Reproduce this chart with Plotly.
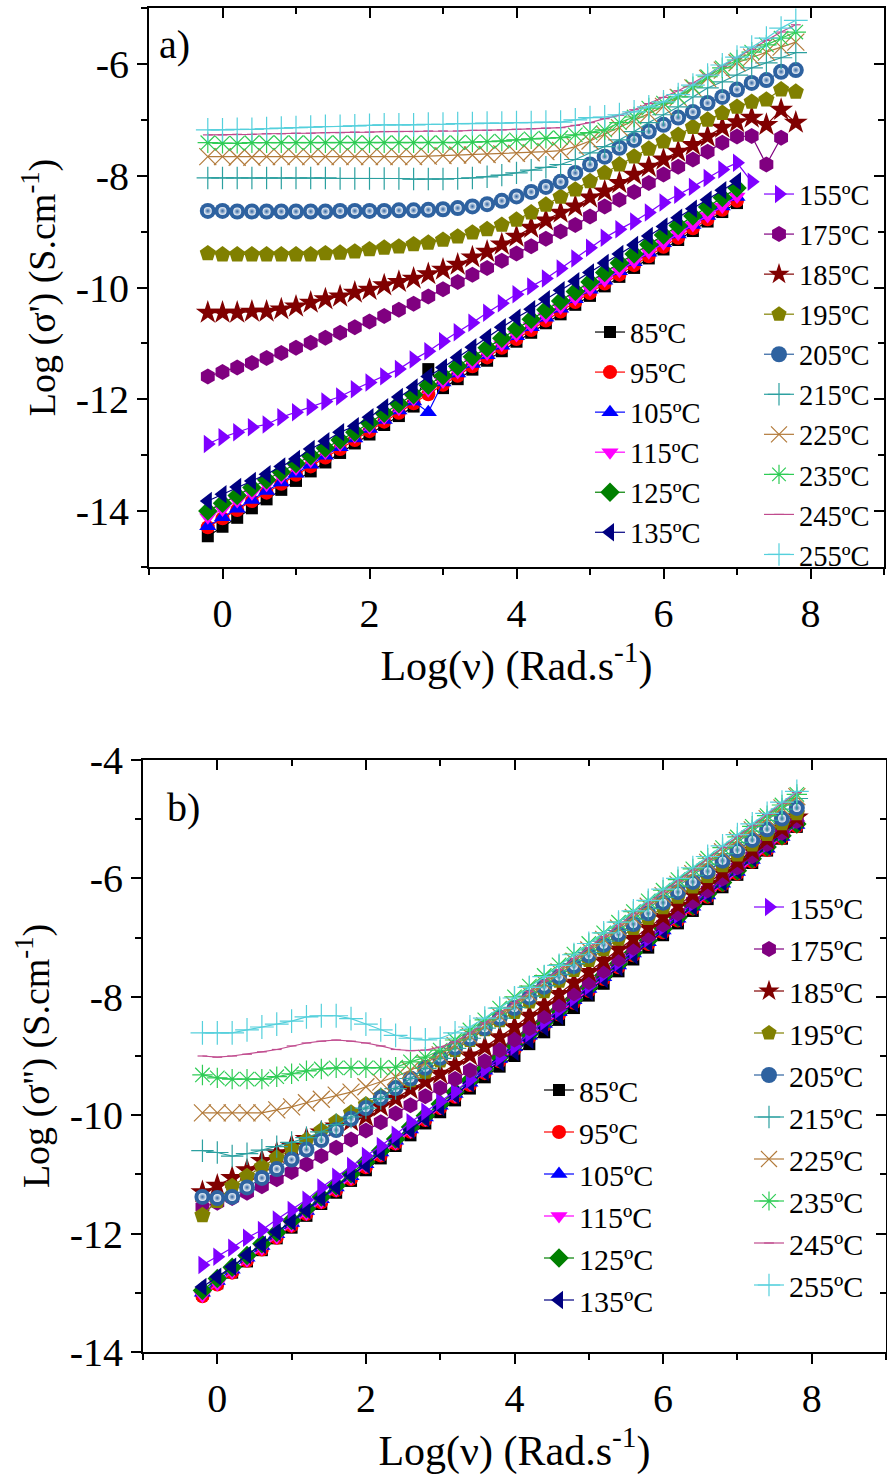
import plotly.graph_objects as go

# log10 of angular frequency (shared sampling of both panels)
FREQ = [-0.2, 0.0, 0.2, 0.4, 0.6, 0.8, 1.0, 1.2, 1.4, 1.6, 1.8, 2.0, 2.2, 2.4, 2.6,
        2.8, 3.0, 3.2, 3.4, 3.6, 3.8, 4.0, 4.2, 4.4, 4.6, 4.8, 5.0, 5.2, 5.4, 5.6,
        5.8, 6.0, 6.2, 6.4, 6.6, 6.8, 7.0, 7.2, 7.4, 7.6, 7.8]

TEMPS = ["85ºC", "95ºC", "105ºC", "115ºC", "125ºC", "135ºC", "155ºC", "175ºC",
         "185ºC", "195ºC", "205ºC", "215ºC", "225ºC", "235ºC", "245ºC", "255ºC"]

# ---- a) real part of conductivity, log(sigma') ----
A_85 = [-14.45, -14.28, -14.12, -13.95, -13.79, -13.62, -13.46, -13.29, -13.13, -12.96,
        -12.79, -12.63, -12.46, -12.30, -12.13, -11.46, -11.80, -11.64, -11.47, -11.31,
        -11.14, -10.97, -10.81, -10.64, -10.48, -10.31, -10.15, -9.98, -9.81, -9.65,
        -9.48, -9.32, -9.15, -8.99, -8.82, -8.65, -8.49]
A_95 = [-14.29, -14.13, -13.98, -13.82, -13.67, -13.51, -13.35, -13.20, -13.04, -12.89,
        -12.73, -12.57, -12.40, -12.24, -12.07, -11.91, -11.74, -11.58, -11.41, -11.25,
        -11.08, -10.92, -10.76, -10.59, -10.43, -10.26, -10.10, -9.93, -9.77, -9.60,
        -9.44, -9.27, -9.11, -8.94, -8.78, -8.61, -8.45]
A_105 = [-14.27, -14.11, -13.96, -13.80, -13.64, -13.49, -13.33, -13.17, -13.01, -12.86,
         -12.70, -12.53, -12.37, -12.20, -12.04, -12.23, -11.70, -11.54, -11.37, -11.21,
         -11.04, -10.87, -10.71, -10.54, -10.38, -10.21, -10.04, -9.88, -9.71, -9.55,
         -9.38, -9.21, -9.05, -8.88, -8.72, -8.55, -8.38]
A_115 = [-14.11, -13.97, -13.82, -13.68, -13.53, -13.39, -13.24, -13.10, -12.95, -12.81,
         -12.66, -12.50, -12.33, -12.17, -12.00, -11.84, -11.68, -11.51, -11.35, -11.18,
         -11.02, -10.85, -10.69, -10.52, -10.36, -10.20, -10.03, -9.87, -9.70, -9.54,
         -9.37, -9.21, -9.04, -8.88, -8.72, -8.55, -8.37]
A_125 = [-14.00, -13.86, -13.72, -13.58, -13.44, -13.30, -13.15, -13.01, -12.87, -12.73,
         -12.59, -12.42, -12.25, -12.08, -11.92, -11.75, -11.58, -11.41, -11.24, -11.08,
         -10.91, -10.74, -10.57, -10.40, -10.24, -10.07, -9.90, -9.73, -9.56, -9.40,
         -9.23, -9.06, -8.89, -8.72, -8.56, -8.39, -8.22]
A_135 = [-13.82, -13.70, -13.57, -13.46, -13.34, -13.20, -13.07, -12.89, -12.75, -12.59,
         -12.48, -12.32, -12.14, -11.96, -11.79, -11.59, -11.43, -11.25, -11.07, -10.89,
         -10.71, -10.54, -10.39, -10.21, -10.05, -9.89, -9.73, -9.56, -9.40, -9.24,
         -9.08, -8.91, -8.75, -8.59, -8.43, -8.26, -8.10]
A_155 = [-12.80, -12.68, -12.59, -12.50, -12.45, -12.32, -12.23, -12.14, -12.04, -11.95,
         -11.82, -11.70, -11.59, -11.46, -11.29, -11.14, -10.96, -10.80, -10.63, -10.45,
         -10.28, -10.12, -9.98, -9.84, -9.66, -9.48, -9.29, -9.11, -8.96, -8.82,
         -8.66, -8.48, -8.34, -8.20, -8.04, -7.89, -7.77, -8.11]
A_175 = [-11.59, -11.51, -11.43, -11.35, -11.26, -11.17, -11.08, -10.99, -10.90, -10.81,
         -10.71, -10.61, -10.51, -10.40, -10.29, -10.16, -10.03, -9.90, -9.77, -9.65,
         -9.52, -9.39, -9.26, -9.13, -9.00, -8.88, -8.73, -8.55, -8.43, -8.29,
         -8.13, -7.98, -7.84, -7.71, -7.57, -7.41, -7.30, -7.29, -7.80, -7.32]
A_185 = [-10.45, -10.45, -10.45, -10.43, -10.43, -10.39, -10.34, -10.27, -10.21, -10.16,
         -10.09, -10.04, -9.96, -9.90, -9.84, -9.76, -9.68, -9.59, -9.46, -9.36,
         -9.23, -9.09, -8.93, -8.80, -8.66, -8.55, -8.39, -8.28, -8.13, -7.98,
         -7.84, -7.71, -7.57, -7.45, -7.30, -7.14, -7.04, -6.96, -7.09, -6.82, -7.05]
A_195 = [-9.39, -9.41, -9.41, -9.41, -9.41, -9.41, -9.41, -9.41, -9.39, -9.38,
         -9.36, -9.32, -9.29, -9.27, -9.23, -9.20, -9.15, -9.09, -9.02, -8.96,
         -8.88, -8.79, -8.66, -8.52, -8.38, -8.25, -8.10, -7.95, -7.80, -7.66,
         -7.52, -7.39, -7.27, -7.13, -7.00, -6.88, -6.77, -6.68, -6.64, -6.46, -6.50]
A_205 = [-8.63, -8.63, -8.64, -8.64, -8.64, -8.64, -8.64, -8.64, -8.64, -8.63,
         -8.63, -8.63, -8.63, -8.62, -8.62, -8.61, -8.60, -8.58, -8.55, -8.51,
         -8.45, -8.37, -8.29, -8.20, -8.11, -7.95, -7.80, -7.66, -7.50, -7.36,
         -7.21, -7.09, -6.96, -6.86, -6.70, -6.59, -6.46, -6.34, -6.29, -6.14, -6.11]
A_215 = [-8.04, -8.04, -8.04, -8.04, -8.04, -8.04, -8.04, -8.04, -8.04, -8.05,
         -8.05, -8.05, -8.05, -8.05, -8.06, -8.06, -8.06, -8.05, -8.04, -8.02,
         -7.99, -7.95, -7.90, -7.85, -7.80, -7.71, -7.59, -7.48, -7.36, -7.21,
         -7.05, -6.91, -6.77, -6.59, -6.43, -6.32, -6.20, -6.07, -5.98, -5.89, -5.80]
A_225 = [-7.66, -7.66, -7.67, -7.67, -7.66, -7.66, -7.66, -7.66, -7.66, -7.66,
         -7.66, -7.66, -7.66, -7.66, -7.66, -7.65, -7.64, -7.63, -7.63, -7.62,
         -7.61, -7.60, -7.59, -7.57, -7.55, -7.48, -7.38, -7.26, -7.14, -7.02,
         -6.89, -6.76, -6.60, -6.43, -6.26, -6.11, -5.98, -5.88, -5.79, -5.70, -5.61]
A_235 = [-7.41, -7.42, -7.42, -7.41, -7.41, -7.41, -7.41, -7.41, -7.41, -7.41,
         -7.41, -7.41, -7.41, -7.41, -7.41, -7.41, -7.41, -7.41, -7.40, -7.39,
         -7.38, -7.36, -7.34, -7.33, -7.32, -7.27, -7.23, -7.18, -7.05, -6.95,
         -6.79, -6.70, -6.59, -6.41, -6.23, -6.07, -5.93, -5.79, -5.66, -5.54, -5.43]
A_245 = [-7.27, -7.27, -7.26, -7.26, -7.25, -7.25, -7.24, -7.24, -7.23, -7.23,
         -7.22, -7.22, -7.21, -7.21, -7.21, -7.20, -7.20, -7.20, -7.19, -7.19,
         -7.18, -7.17, -7.16, -7.15, -7.14, -7.10, -7.05, -6.98, -6.92, -6.82,
         -6.71, -6.60, -6.48, -6.34, -6.19, -6.04, -5.89, -5.74, -5.58, -5.43, -5.30]
A_255 = [-7.18, -7.18, -7.17, -7.17, -7.16, -7.15, -7.14, -7.13, -7.12, -7.12,
         -7.11, -7.10, -7.09, -7.09, -7.09, -7.08, -7.08, -7.07, -7.07, -7.06,
         -7.06, -7.05, -7.05, -7.04, -7.04, -7.00, -6.96, -6.95, -6.91, -6.86,
         -6.77, -6.68, -6.55, -6.38, -6.20, -6.02, -5.88, -5.70, -5.54, -5.36, -5.22]

# ---- b) imaginary part of conductivity, log(sigma'') ----
B_85 = [-13.02, -12.84, -12.66, -12.47, -12.28, -12.08, -11.90, -11.70, -11.50, -11.31,
        -11.11, -10.93, -10.73, -10.52, -10.34, -10.14, -9.95, -9.75, -9.55, -9.36,
        -9.18, -9.00, -8.80, -8.60, -8.39, -8.19, -7.98, -7.78, -7.57, -7.37,
        -7.17, -6.96, -6.76, -6.55, -6.35, -6.15, -5.94, -5.74, -5.53, -5.33, -5.13]
B_95 = [-13.06, -12.86, -12.66, -12.46, -12.27, -12.07, -11.87, -11.67, -11.47, -11.27,
        -11.08, -10.88, -10.68, -10.48, -10.28, -10.08, -9.88, -9.69, -9.49, -9.29,
        -9.09, -8.89, -8.69, -8.49, -8.30, -8.10, -7.90, -7.70, -7.50, -7.30,
        -7.11, -6.91, -6.71, -6.51, -6.31, -6.11, -5.92, -5.72, -5.52, -5.32, -5.12]
B_105 = [-13.00, -12.80, -12.61, -12.41, -12.21, -12.01, -11.82, -11.62, -11.42, -11.22,
         -11.03, -10.83, -10.63, -10.43, -10.24, -10.04, -9.84, -9.64, -9.45, -9.25,
         -9.05, -8.85, -8.66, -8.46, -8.26, -8.06, -7.87, -7.67, -7.47, -7.27,
         -7.08, -6.88, -6.68, -6.48, -6.29, -6.09, -5.89, -5.69, -5.50, -5.30, -5.10]
B_115 = [-13.05, -12.85, -12.65, -12.45, -12.25, -12.06, -11.86, -11.66, -11.46, -11.26,
         -11.06, -10.86, -10.66, -10.47, -10.27, -10.07, -9.87, -9.67, -9.47, -9.27,
         -9.08, -8.88, -8.68, -8.48, -8.28, -8.08, -7.88, -7.68, -7.49, -7.29,
         -7.09, -6.89, -6.69, -6.49, -6.29, -6.10, -5.90, -5.70, -5.50, -5.30, -5.10]
B_125 = [-12.96, -12.76, -12.57, -12.37, -12.17, -11.98, -11.78, -11.58, -11.38, -11.19,
         -10.99, -10.79, -10.60, -10.40, -10.20, -10.01, -9.81, -9.61, -9.41, -9.22,
         -9.02, -8.82, -8.63, -8.43, -8.23, -8.04, -7.84, -7.64, -7.44, -7.25,
         -7.05, -6.85, -6.66, -6.46, -6.26, -6.07, -5.87, -5.67, -5.47, -5.28, -5.08]
B_135 = [-12.90, -12.73, -12.56, -12.36, -12.19, -11.97, -11.80, -11.60, -11.40, -11.21,
         -11.01, -10.84, -10.64, -10.42, -10.25, -10.05, -9.86, -9.66, -9.46, -9.27,
         -9.10, -8.93, -8.73, -8.52, -8.32, -8.11, -7.91, -7.70, -7.50, -7.30,
         -7.09, -6.89, -6.68, -6.48, -6.27, -6.07, -5.87, -5.66, -5.46, -5.25, -5.05]
B_155 = [-12.53, -12.39, -12.24, -12.07, -11.94, -11.76, -11.60, -11.43, -11.22, -11.04,
         -10.86, -10.69, -10.52, -10.33, -10.12, -9.94, -9.77, -9.60, -9.40, -9.22,
         -9.03, -8.84, -8.62, -8.42, -8.22, -8.02, -7.82, -7.62, -7.42, -7.22,
         -7.02, -6.82, -6.62, -6.42, -6.22, -6.02, -5.82, -5.62, -5.42, -5.22, -5.02]
B_175 = [-11.55, -11.48, -11.40, -11.31, -11.20, -11.08, -10.96, -10.83, -10.69, -10.55,
         -10.41, -10.26, -10.12, -9.97, -9.83, -9.68, -9.54, -9.39, -9.24, -9.09,
         -8.90, -8.72, -8.53, -8.33, -8.14, -7.94, -7.75, -7.56, -7.36, -7.17,
         -6.97, -6.78, -6.59, -6.39, -6.20, -6.00, -5.81, -5.62, -5.42, -5.23, -5.03]
B_185 = [-11.30, -11.19, -11.06, -10.93, -10.77, -10.64, -10.52, -10.40, -10.29, -10.19,
         -10.10, -10.02, -9.85, -9.72, -9.56, -9.43, -9.30, -9.15, -8.99, -8.85,
         -8.68, -8.51, -8.32, -8.14, -7.95, -7.76, -7.58, -7.39, -7.20, -7.02,
         -6.83, -6.65, -6.46, -6.27, -6.09, -5.90, -5.72, -5.53, -5.34, -5.16, -4.97]
B_195 = [-11.69, -11.45, -11.20, -11.03, -10.87, -10.72, -10.57, -10.42, -10.26, -10.11,
         -9.96, -9.82, -9.68, -9.54, -9.41, -9.27, -9.08, -8.90, -8.73, -8.55,
         -8.40, -8.26, -8.08, -7.91, -7.73, -7.55, -7.38, -7.20, -7.02, -6.84,
         -6.67, -6.49, -6.31, -6.14, -5.96, -5.78, -5.60, -5.43, -5.25, -5.07, -4.90]
B_205 = [-11.38, -11.40, -11.38, -11.22, -11.06, -10.91, -10.75, -10.58, -10.42, -10.25,
         -10.06, -9.88, -9.71, -9.54, -9.38, -9.20, -9.03, -8.86, -8.70, -8.53,
         -8.36, -8.19, -8.01, -7.83, -7.66, -7.48, -7.30, -7.12, -6.94, -6.77,
         -6.59, -6.41, -6.23, -6.06, -5.88, -5.70, -5.52, -5.35, -5.17, -4.99, -4.81]
B_215 = [-10.60, -10.63, -10.69, -10.65, -10.59, -10.53, -10.46, -10.38, -10.28, -10.16,
         -10.03, -9.88, -9.72, -9.55, -9.38, -9.21, -9.04, -8.87, -8.70, -8.53,
         -8.36, -8.18, -7.99, -7.81, -7.62, -7.44, -7.25, -7.06, -6.88, -6.69,
         -6.51, -6.32, -6.13, -5.95, -5.76, -5.58, -5.39, -5.20, -5.02, -4.83, -4.65]
B_225 = [-9.96, -9.96, -9.96, -9.96, -9.96, -9.91, -9.86, -9.79, -9.73, -9.66,
         -9.61, -9.52, -9.44, -9.35, -9.24, -9.12, -8.98, -8.82, -8.66, -8.49,
         -8.32, -8.14, -7.95, -7.77, -7.58, -7.40, -7.21, -7.03, -6.84, -6.66,
         -6.47, -6.29, -6.10, -5.92, -5.73, -5.55, -5.36, -5.18, -4.99, -4.81, -4.62]
B_235 = [-9.32, -9.37, -9.39, -9.39, -9.39, -9.35, -9.30, -9.25, -9.22, -9.20,
         -9.20, -9.20, -9.20, -9.19, -9.10, -9.02, -8.90, -8.73, -8.56, -8.39,
         -8.19, -8.00, -7.82, -7.64, -7.46, -7.28, -7.10, -6.92, -6.74, -6.56,
         -6.38, -6.20, -6.02, -5.84, -5.66, -5.48, -5.30, -5.12, -4.94, -4.76, -4.58]
B_245 = [-9.00, -9.02, -9.00, -8.97, -8.93, -8.89, -8.83, -8.78, -8.75, -8.73,
         -8.75, -8.78, -8.83, -8.89, -8.91, -8.90, -8.85, -8.76, -8.61, -8.44,
         -8.27, -8.10, -7.91, -7.73, -7.54, -7.35, -7.17, -6.98, -6.79, -6.60,
         -6.42, -6.23, -6.04, -5.86, -5.67, -5.48, -5.29, -5.11, -4.92, -4.73, -4.55]
B_255 = [-8.61, -8.61, -8.61, -8.56, -8.51, -8.46, -8.41, -8.34, -8.32, -8.32,
         -8.37, -8.46, -8.56, -8.65, -8.70, -8.73, -8.70, -8.61, -8.51, -8.36,
         -8.19, -8.02, -7.84, -7.66, -7.47, -7.29, -7.10, -6.92, -6.74, -6.55,
         -6.37, -6.18, -6.00, -5.82, -5.63, -5.45, -5.26, -5.08, -4.90, -4.71, -4.53]

SERIES_A = [A_85, A_95, A_105, A_115, A_125, A_135, A_155, A_175,
            A_185, A_195, A_205, A_215, A_225, A_235, A_245, A_255]
SERIES_B = [B_85, B_95, B_105, B_115, B_125, B_135, B_155, B_175,
            B_185, B_195, B_205, B_215, B_225, B_235, B_245, B_255]

# marker style per temperature: (colour, symbol, size, filled)
STYLES = [
    ("#000000", "square", 12, True),
    ("#FF0000", "circle", 14, True),
    ("#0000FF", "triangle-up", 15, True),
    ("#FF00FF", "triangle-down", 15, True),
    ("#008000", "diamond", 15, True),
    ("#000080", "triangle-left", 16, True),
    ("#8000FF", "triangle-right", 16, True),
    ("#800080", "hexagon", 16, True),
    ("#800000", "star", 18, True),
    ("#808000", "pentagon", 17, True),
    ("#2E62A0", "circle", 16, True),
    ("#2CA0A0", "cross-thin", 16, False),
    ("#B27A3A", "x-thin", 17, False),
    ("#2ECC55", "asterisk-open", 17, False),
    ("#C04B8E", "line-ew-open", 7, False),
    ("#55D0DC", "cross-thin", 17, False),
]

SERIF = "Liberation Serif"
W, H = 887, 1481

fig = go.Figure()


def add_panel(series_list, xref, yref, legend_lo, legend_hi):
    for i, (vals, label, style) in enumerate(zip(series_list, TEMPS, STYLES)):
        color, symbol, size, filled = style
        marker = dict(symbol=symbol, size=size, color=color)
        if filled:
            marker["line"] = dict(width=0)
        else:
            marker["line"] = dict(width=1.2, color=color)
        leg = legend_lo if i < 6 else legend_hi
        fig.add_trace(go.Scatter(
            x=FREQ[:len(vals)], y=vals, name=label, legendgroup=label + xref,
            mode="lines+markers",
            line=dict(color=color, width=1.2),
            marker=marker,
            xaxis=xref, yaxis=yref, legend=leg,
        ))
        if label == "205ºC":
            # glossy highlight on the sphere markers
            fig.add_trace(go.Scatter(
                x=FREQ[:len(vals)], y=vals, legendgroup=label + xref,
                mode="markers", showlegend=False, hoverinfo="skip",
                marker=dict(symbol="circle", size=8, color="#F4F8FC",
                            gradient=dict(type="radial", color="#2E62A0"),
                            line=dict(width=0)),
                xaxis=xref, yaxis=yref, legend=leg,
            ))


add_panel(SERIES_A, "x", "y", "legend", "legend2")
add_panel(SERIES_B, "x2", "y2", "legend3", "legend4")

# empty traces that carry the mirrored (inward-ticked) frame axes
for xr, yr in (("x3", "y3"), ("x4", "y4")):
    fig.add_trace(go.Scatter(x=[None], y=[None], xaxis=xr, yaxis=yr,
                             showlegend=False, hoverinfo="skip"))

# pixel geometry of the two plotting areas
PA = dict(l=149, r=884, t=8, b=567)
PB = dict(l=143, r=886, t=760, b=1352)


def xdom(p):
    return [p["l"] / W, p["r"] / W]


def ydom(p):
    return [1 - p["b"] / H, 1 - p["t"] / H]


tickfont = dict(family=SERIF, size=40, color="black")
xtitlefont = dict(family=SERIF, size=42, color="black")
ytitlefont = dict(family=SERIF, size=38, color="black")
XT = [0, 2, 4, 6, 8]


def minor(side):
    return dict(ticks=side, ticklen=6, tickwidth=2, tickcolor="black",
                tickmode="linear", tick0=0, dtick=1)


def base_axis(**kw):
    d = dict(showgrid=False, zeroline=False, showline=True, linewidth=2,
             linecolor="black", tickwidth=2, tickcolor="black", ticklen=10,
             tickfont=tickfont, automargin=False, minor=minor("outside"))
    d.update(kw)
    return d


def yticks(rng):
    vals = [v for v in range(int(rng[0]), int(rng[1]) + 1) if v % 2 == 0]
    return vals, [str(v) for v in vals]


ya_vals, ya_text = yticks([-15, -5])
yb_vals, yb_text = yticks([-14, -4])
xlabel = "Log(ν) (Rad.s<sup>-1</sup>)"

fig.update_layout(
    width=W, height=H, margin=dict(l=0, r=0, t=0, b=0, pad=0),
    paper_bgcolor="white", plot_bgcolor="white",
    font=dict(family=SERIF, color="black"),
    xaxis=base_axis(domain=xdom(PA), range=[-1, 9], anchor="y", ticks="outside",
                    tickmode="array", tickvals=XT, ticktext=[str(v) for v in XT],
                    title=dict(text=xlabel, font=xtitlefont, standoff=4)),
    yaxis=base_axis(domain=ydom(PA), range=[-15, -5], anchor="x", ticks="outside",
                    tickmode="array", tickvals=ya_vals, ticktext=ya_text,
                    title=dict(text="Log (σ') (S.cm<sup>-1</sup>)", font=ytitlefont,
                               standoff=8)),
    xaxis3=base_axis(domain=xdom(PA), range=[-1, 9], anchor="y", overlaying="x",
                     side="top", ticks="inside", showticklabels=False,
                     tickmode="array", tickvals=XT, minor=minor("inside")),
    yaxis3=base_axis(domain=ydom(PA), range=[-15, -5], anchor="x", overlaying="y",
                     side="right", ticks="inside", showticklabels=False,
                     tickmode="array", tickvals=ya_vals, minor=minor("inside")),
    xaxis2=base_axis(domain=xdom(PB), range=[-1, 9], anchor="y2", ticks="outside",
                     tickmode="array", tickvals=XT, ticktext=[str(v) for v in XT],
                     title=dict(text=xlabel, font=xtitlefont, standoff=8)),
    yaxis2=base_axis(domain=ydom(PB), range=[-14, -4], anchor="x2", ticks="outside",
                     tickmode="array", tickvals=yb_vals, ticktext=yb_text,
                     title=dict(text="Log (σ'') (S.cm<sup>-1</sup>)", font=ytitlefont,
                                standoff=8)),
    xaxis4=base_axis(domain=xdom(PB), range=[-1, 9], anchor="y2", overlaying="x2",
                     side="top", ticks="inside", showticklabels=False,
                     tickmode="array", tickvals=XT, minor=minor("inside")),
    yaxis4=base_axis(domain=ydom(PB), range=[-14, -4], anchor="x2", overlaying="y2",
                     side="right", ticks="inside", showticklabels=False,
                     tickmode="array", tickvals=yb_vals, minor=minor("inside")),
    showlegend=True,
)


def legend_box(left, top, size):
    return dict(x=left / W, y=1 - top / H, xanchor="left", yanchor="top",
                bgcolor="rgba(0,0,0,0)", borderwidth=0, tracegroupgap=0,
                itemwidth=30, font=dict(family=SERIF, size=size, color="black"))


fig.update_layout(
    legend=legend_box(590, 307, 28.5),
    legend2=legend_box(759, 169, 28.5),
    legend3=legend_box(539, 1064, 30),
    legend4=legend_box(749, 881, 30),
)

# panel tags
fig.add_annotation(x=-0.65, y=-5.66, xref="x", yref="y", text="a)", showarrow=False,
                   font=dict(family=SERIF, size=40, color="black"))
fig.add_annotation(x=-0.45, y=-4.8, xref="x2", yref="y2", text="b)", showarrow=False,
                   font=dict(family=SERIF, size=40, color="black"))

fig.write_html("out.html")
